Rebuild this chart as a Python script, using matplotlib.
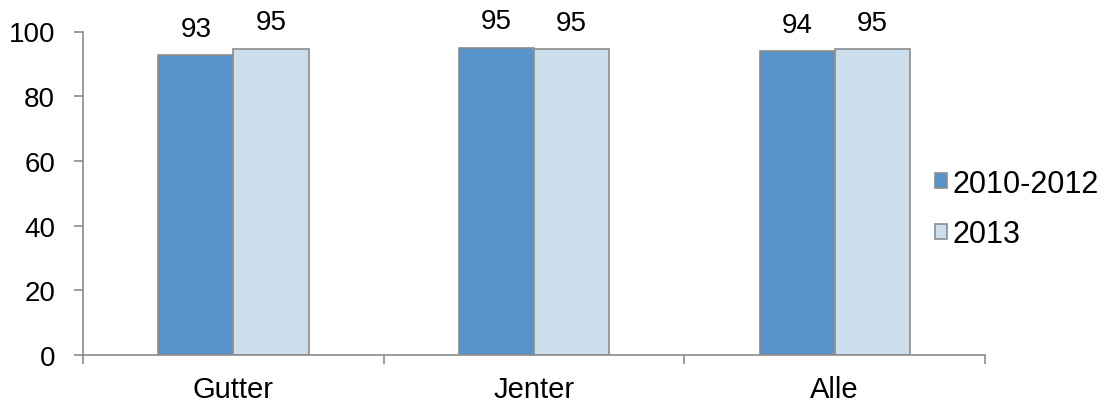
import matplotlib.pyplot as plt
import numpy as np

plt.rcParams['font.family'] = ['Liberation Sans', 'DejaVu Sans']

categories = ['Gutter', 'Jenter', 'Alle']
series_names = ['2010-2012', '2013']
vals_2010_2012 = [92.7, 95.0, 93.9]
vals_2013 = [94.7, 94.6, 94.6]

fig = plt.figure(figsize=(11.13, 4.02), dpi=100)
ax = fig.add_axes([83 / 1113, 1 - 356 / 402, 902 / 1113, 323.5 / 402])

x = np.arange(len(categories))
w = 0.25
edge = '#8C8C8C'
b1 = ax.bar(x - w / 2, vals_2010_2012, w, color='#5893CB', edgecolor=edge, linewidth=1.2,
            label=series_names[0])
b2 = ax.bar(x + w / 2, vals_2013, w, color='#CCDDEC', edgecolor=edge, linewidth=1.2,
            label=series_names[1])

# value labels above the bars
for bars in (b1, b2):
    for rect in bars:
        ax.annotate(f"{rect.get_height():.0f}", (rect.get_x() + rect.get_width() / 2, rect.get_height()),
                    xytext=(0, 9.5), textcoords='offset points', ha='center', va='bottom', fontsize=20)

ax.set_xlim(-0.5, 2.5)
ax.set_ylim(0, 100)
ax.set_yticks(range(0, 101, 20))
ax.tick_params(axis='y', labelsize=20, length=6.5, width=1.2, color=edge, pad=13.5)

# category labels centred, tick marks on the borders
ax.set_xticks([-0.5, 0.5, 1.5, 2.5])
ax.set_xticklabels([])
ax.set_xticks(x, minor=True)
ax.set_xticklabels(categories, minor=True, fontsize=21)
ax.tick_params(axis='x', which='major', length=6.5, width=1.2, color=edge)
ax.tick_params(axis='x', which='minor', length=0, pad=14.5)

for side in ['top', 'right']:
    ax.spines[side].set_visible(False)
for side in ['left', 'bottom']:
    ax.spines[side].set_color(edge)
    ax.spines[side].set_linewidth(1.2)

ax.legend(loc='center left', bbox_to_anchor=(923 / 1113, 1 - 210 / 402),
          bbox_transform=fig.transFigure, frameon=False, fontsize=22, borderaxespad=0,
          handlelength=0.4, handleheight=0.4, handletextpad=0.15, labelspacing=0.68)

fig.savefig('out.png', dpi=100)
